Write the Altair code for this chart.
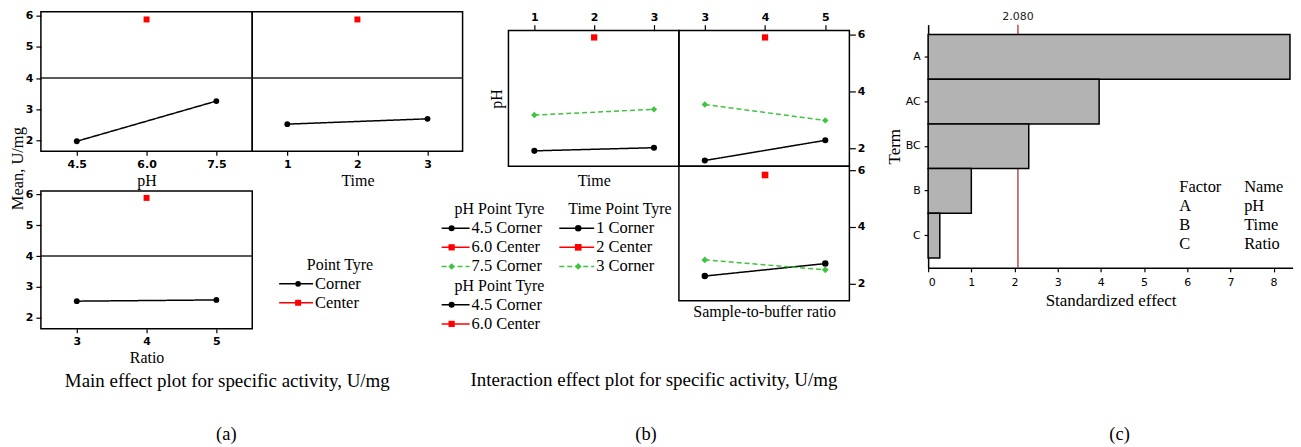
import altair as alt
import pandas as pd

SERIF = "Liberation Serif"
SANS = "DejaVu Sans"
GREEN = "#3ec43e"

# ---------------- data ----------------
# (a) main effects plot
ph_levels = [4.5, 7.5, 6.0]
ph_means = [1.97, 3.26, 5.88]
ph_types = ["Corner", "Corner", "Center"]
time_levels = [1, 3, 2]
time_means = [2.52, 2.69, 5.88]
time_types = ["Corner", "Corner", "Center"]
ratio_levels = [3, 5, 4]
ratio_means = [2.54, 2.58, 5.88]
ratio_types = ["Corner", "Corner", "Center"]
grand_mean = [4.0]

# (b) interaction plot
ph_time_x = [1, 3, 1, 3, 2]
ph_time_y = [1.91, 2.02, 3.17, 3.37, 5.90]
ph_time_series = ["4.5 Corner", "4.5 Corner", "7.5 Corner", "7.5 Corner", "6.0 Center"]
ph_ratio_x = [3, 5, 3, 5, 4]
ph_ratio_y = [1.57, 2.28, 3.54, 2.98, 5.90]
ph_ratio_series = ["4.5 Corner", "4.5 Corner", "7.5 Corner", "7.5 Corner", "6.0 Center"]
time_ratio_x = [3, 5, 3, 5, 4]
time_ratio_y = [2.27, 2.71, 2.84, 2.49, 5.83]
time_ratio_series = ["1 Corner", "1 Corner", "3 Corner", "3 Corner", "2 Center"]

# legends
legend_a_title = ["Point Tyre"]
legend_a_items = ["Corner", "Center"]
legend_ph_title = ["pH Point Tyre"]
legend_ph_items = ["4.5 Corner", "6.0 Center", "7.5 Corner"]
legend_ph2_items = ["4.5 Corner", "6.0 Center"]
legend_time_title = ["Time Point Tyre"]
legend_time_items = ["1 Corner", "2 Center", "3 Corner"]

# (c) Pareto chart
terms = ["A", "AC", "BC", "B", "C"]
std_effects = [8.38, 3.96, 2.33, 1.00, 0.27]
critical_value = [2.080]
factor_header = ["Factor", "Name"]
factor_codes = ["A", "B", "C"]
factor_names = ["pH", "Time", "Ratio"]

captions = ["Main effect plot for specific activity, U/mg",
            "Interaction effect plot for specific activity, U/mg"]
panel_tags = ["(a)", "(b)", "(c)"]

# ---------------- styles ----------------
SERIES = ["Corner", "Center", "4.5 Corner", "6.0 Center", "7.5 Corner",
          "1 Corner", "2 Center", "3 Corner"]
S_COLOR = ["black", "red", "black", "red", GREEN, "black", "red", GREEN]
S_SHAPE = ["circle", "square", "circle", "square", "diamond", "circle", "square", "diamond"]
S_DASH = [[1, 0], [1, 0], [1, 0], [1, 0], [5, 3], [1, 0], [1, 0], [5, 3]]
S_SIZE = [34, 46, 34, 46, 80, 34, 46, 80]
NOFRAME = alt.ViewBackground(strokeOpacity=0)


def style():
    return dict(
        color=alt.Color("s:N", scale=alt.Scale(domain=SERIES, range=S_COLOR), legend=None),
        shape=alt.Shape("s:N", scale=alt.Scale(domain=SERIES, range=S_SHAPE), legend=None),
        strokeDash=alt.StrokeDash("s:N", scale=alt.Scale(domain=SERIES, range=S_DASH), legend=None),
        size=alt.Size("s:O", scale=alt.Scale(domain=SERIES, range=S_SIZE), legend=None),
    )


def series_plot(xs, ys, ss, X, Y, w, h, extra=()):
    df = pd.DataFrame({"x": xs, "y": ys, "s": ss})
    st = style()
    base = alt.Chart(df)
    lines = base.mark_line(strokeWidth=1.5).encode(
        x=X, y=Y, color=st["color"], strokeDash=st["strokeDash"])
    pts = base.mark_point(filled=True, opacity=1).encode(
        x=X, y=Y, color=st["color"], shape=st["shape"], size=st["size"])
    return alt.layer(*extra, lines, pts).properties(width=w, height=h)


def text_layer(t, x, y, size=16, align="center", font=SERIF):
    return alt.Chart(pd.DataFrame({"t": [t]})).mark_text(
        font=font, fontSize=size, align=align, color="black").encode(
        x=alt.value(x), y=alt.value(y), text="t:N")


def legend_group(title, items, slot0, YS, x_title, title_align, x_l0, x_l1, x_mk, x_txt):
    tdf = pd.DataFrame({"slot": [slot0], "label": title})
    edf = pd.DataFrame({"slot": list(range(slot0 + 1, slot0 + 1 + len(items))), "s": items})
    st = style()
    return [
        alt.Chart(tdf).mark_text(font=SERIF, fontSize=16, align=title_align, color="black").encode(
            x=alt.value(x_title), y=YS, text="label:N"),
        alt.Chart(edf).mark_rule(strokeWidth=1.5).encode(
            x=alt.value(x_l0), x2=alt.value(x_l1), y=YS, color=st["color"], strokeDash=st["strokeDash"]),
        alt.Chart(edf).mark_point(filled=True, opacity=1).encode(
            x=alt.value(x_mk), y=YS, color=st["color"], shape=st["shape"], size=st["size"]),
        alt.Chart(edf).mark_text(font=SERIF, fontSize=16.5, align="left", color="black").encode(
            x=alt.value(x_txt), y=YS, text="s:N"),
    ]


def blank(w, h):
    return alt.Chart(pd.DataFrame({"t": [""]})).mark_text().encode(text="t:N").properties(
        width=w, height=h, view=NOFRAME)


# ---------------- (a) main effects ----------------
def ax_bottom(vals, fmt, title):
    return alt.Axis(values=vals, format=fmt, title=title, tickSize=4, labelPadding=3, titlePadding=3)


yscaleA = alt.Scale(domain=[1.65, 6.13], nice=False, zero=False)
YA1 = alt.Y("y:Q", scale=yscaleA,
            axis=alt.Axis(values=[2, 3, 4, 5, 6], tickSize=5, labelPadding=3, title="Mean, U/mg",
                          titleX=-23, titleY=157, titleBaseline="middle", titleFontSize=16.5))
YA2 = alt.Y("y:Q", scale=yscaleA, axis=None)
YA3 = alt.Y("y:Q", scale=alt.Scale(domain=[1.65, 6.10], nice=False, zero=False),
            axis=alt.Axis(values=[2, 3, 4, 5, 6], tickSize=5, labelPadding=3, title=None))
XA1 = alt.X("x:Q", scale=alt.Scale(domain=[3.729, 8.271], nice=False, zero=False),
            axis=ax_bottom([4.5, 6.0, 7.5], ".1f", "pH"))
XA2 = alt.X("x:Q", scale=alt.Scale(domain=[0.5, 3.5], nice=False, zero=False),
            axis=ax_bottom([1, 2, 3], "d", "Time"))
XA3 = alt.X("x:Q", scale=alt.Scale(domain=[2.486, 5.514], nice=False, zero=False),
            axis=ax_bottom([3, 4, 5], "d", "Ratio"))


def mean_rule(Y):
    return alt.Chart(pd.DataFrame({"y": grand_mean})).mark_rule(color="#222", strokeWidth=1.5).encode(y=Y)


phA = series_plot(ph_levels, ph_means, ph_types, XA1, YA1, 212, 140, [mean_rule(YA1)])
timeA = series_plot(time_levels, time_means, time_types, XA2, YA2, 211, 140, [mean_rule(YA2)])
ratioA = series_plot(ratio_levels, ratio_means, ratio_types, XA3, YA3, 212, 138, [mean_rule(YA3)])

YSA = alt.Y("slot:Q", scale=alt.Scale(domain=[0, 1], range=[74, 93]), axis=None)
legA = alt.layer(
    *legend_group(legend_a_title, legend_a_items, 0, YSA, 88, "center", 27, 61, 46, 63),
    text_layer(captions[0], -25, 190, size=19),
    text_layer(panel_tags[0], -26, 244, size=18.5),
).properties(width=211, height=138, view=NOFRAME)

colA = alt.concat(phA, timeA, ratioA, legA, columns=2, spacing={"row": 40, "column": 0},
                  bounds="flush", align="each")

# ---------------- (b) interactions ----------------
yscaleB = alt.Scale(domain=[1.37, 6.14], nice=False, zero=False)
yscaleB3 = alt.Scale(domain=[1.40, 6.14], nice=False, zero=False)
xscaleT = alt.Scale(domain=[0.567, 3.417], nice=False, zero=False)
xscaleR = alt.Scale(domain=[2.57, 5.40], nice=False, zero=False)
right_axis = alt.Axis(orient="right", values=[2, 4, 6], tickSize=6, labelPadding=2, title=None)

XB1 = alt.X("x:Q", scale=xscaleT,
            axis=alt.Axis(orient="top", values=[1, 2, 3], format="d", tickSize=6, labelPadding=2,
                          title="Time", titleY=150, titleBaseline="middle"))
YB1 = alt.Y("y:Q", scale=yscaleB, axis=alt.Axis(labels=False, ticks=False, title="pH", titlePadding=4))
XB2 = alt.X("x:Q", scale=xscaleR,
            axis=alt.Axis(orient="top", values=[3, 4, 5], format="d", tickSize=6, labelPadding=2, title=None))
YB2 = alt.Y("y:Q", scale=yscaleB, axis=right_axis)
XB3 = alt.X("x:Q", scale=xscaleR,
            axis=alt.Axis(orient="bottom", labels=False, ticks=False, title="Sample-to-buffer ratio",
                          titlePadding=3))
YB3 = alt.Y("y:Q", scale=yscaleB3, axis=right_axis)

tpB = series_plot(ph_time_x, ph_time_y, ph_time_series, XB1, YB1, 171, 136)
rpB = series_plot(ph_ratio_x, ph_ratio_y, ph_ratio_series, XB2, YB2, 171, 136)
rtB = series_plot(time_ratio_x, time_ratio_y, time_ratio_series, XB3, YB3, 171, 135)

YSB = alt.Y("slot:Q", scale=alt.Scale(domain=[0, 1], range=[43, 62.2]), axis=None)
legB = alt.layer(
    *legend_group(legend_ph_title, legend_ph_items, 0, YSB, -54, "left", -67, -39, -57, -37),
    *legend_group(legend_ph_title, legend_ph2_items, 4, YSB, -54, "left", -67, -39, -57, -37),
    *legend_group(legend_time_title, legend_time_items, 0, YSB, 60, "left", 51, 86, 70, 88),
    text_layer(captions[1], 146, 214, size=19),
    text_layer(panel_tags[1], 138, 269, size=18.5),
).properties(width=171, height=135, view=NOFRAME)

colB = alt.concat(blank(171, 19), blank(171, 19), tpB, rpB, legB, rtB, columns=2, spacing=0,
                  bounds="flush", align="each")

# ---------------- (c) Pareto ----------------
XP = alt.X("effect:Q", scale=alt.Scale(domain=[0, 8.45], nice=False, zero=True),
           axis=alt.Axis(values=list(range(9)), format="d", title="Standardized effect",
                         labelFontWeight="normal", tickSize=4, labelPadding=5, titlePadding=5,
                         titleFontSize=17, domain=True, domainColor="black", domainWidth=1.5))
YP = alt.Y("term:N", sort=terms, scale=alt.Scale(paddingInner=0, paddingOuter=0.223),
           axis=alt.Axis(title="Term", labelFontWeight="normal", tickSize=4, labelPadding=4,
                         titlePadding=2, titleFontSize=17, domain=True, domainColor="black",
                         domainWidth=1.5))
crit_df = pd.DataFrame({"effect": critical_value})
crit_rule = alt.Chart(crit_df).mark_rule(color="#b03030", strokeWidth=1.3).encode(x=XP)
bars = alt.Chart(pd.DataFrame({"term": terms, "effect": std_effects})).mark_bar(
    color="#b3b3b3", stroke="black", strokeWidth=1.5).encode(x=XP, y=YP)
crit_lbl = alt.Chart(crit_df).mark_text(font=SANS, fontSize=11, color="#222").encode(
    x=XP, y=alt.value(-8), text=alt.Text("effect:Q", format=".3f"))
tab = pd.DataFrame({"row": list(range(len(factor_codes) + 1)),
                    "code": [factor_header[0]] + factor_codes,
                    "name": [factor_header[1]] + factor_names})
TY = alt.Y("row:Q", scale=alt.Scale(domain=[0, 1], range=[163, 182]), axis=None)
tab_code = alt.Chart(tab).mark_text(font=SERIF, fontSize=16.5, align="left", color="black").encode(
    x=alt.value(252), y=TY, text="code:N")
tab_name = alt.Chart(tab).mark_text(font=SERIF, fontSize=16.5, align="left", color="black").encode(
    x=alt.value(317), y=TY, text="name:N")
pareto = alt.layer(crit_rule, bars, crit_lbl, tab_code, tab_name,
                   text_layer(panel_tags[2], 192, 411, size=18.5)).resolve_scale(y="independent").properties(
    width=366, height=244, view=NOFRAME)

colC = alt.vconcat(blank(366, 13), pareto, spacing=0, bounds="flush")

chart = alt.hconcat(alt.hconcat(colA, colB, spacing=-24), colC, spacing=18).properties(
    padding={"left": 1, "top": 0, "right": 0, "bottom": 0}
).configure_view(
    stroke="black", strokeWidth=1.5
).configure_axis(
    labelFont=SANS, labelFontSize=11, labelFontWeight="bold", labelColor="black",
    tickColor="black", tickWidth=1.2,
    titleFont=SERIF, titleFontSize=16, titleFontWeight="normal", titleColor="black",
    grid=False, domain=False
)

chart.save("out.html", embed_options={"renderer": "svg", "actions": False})
